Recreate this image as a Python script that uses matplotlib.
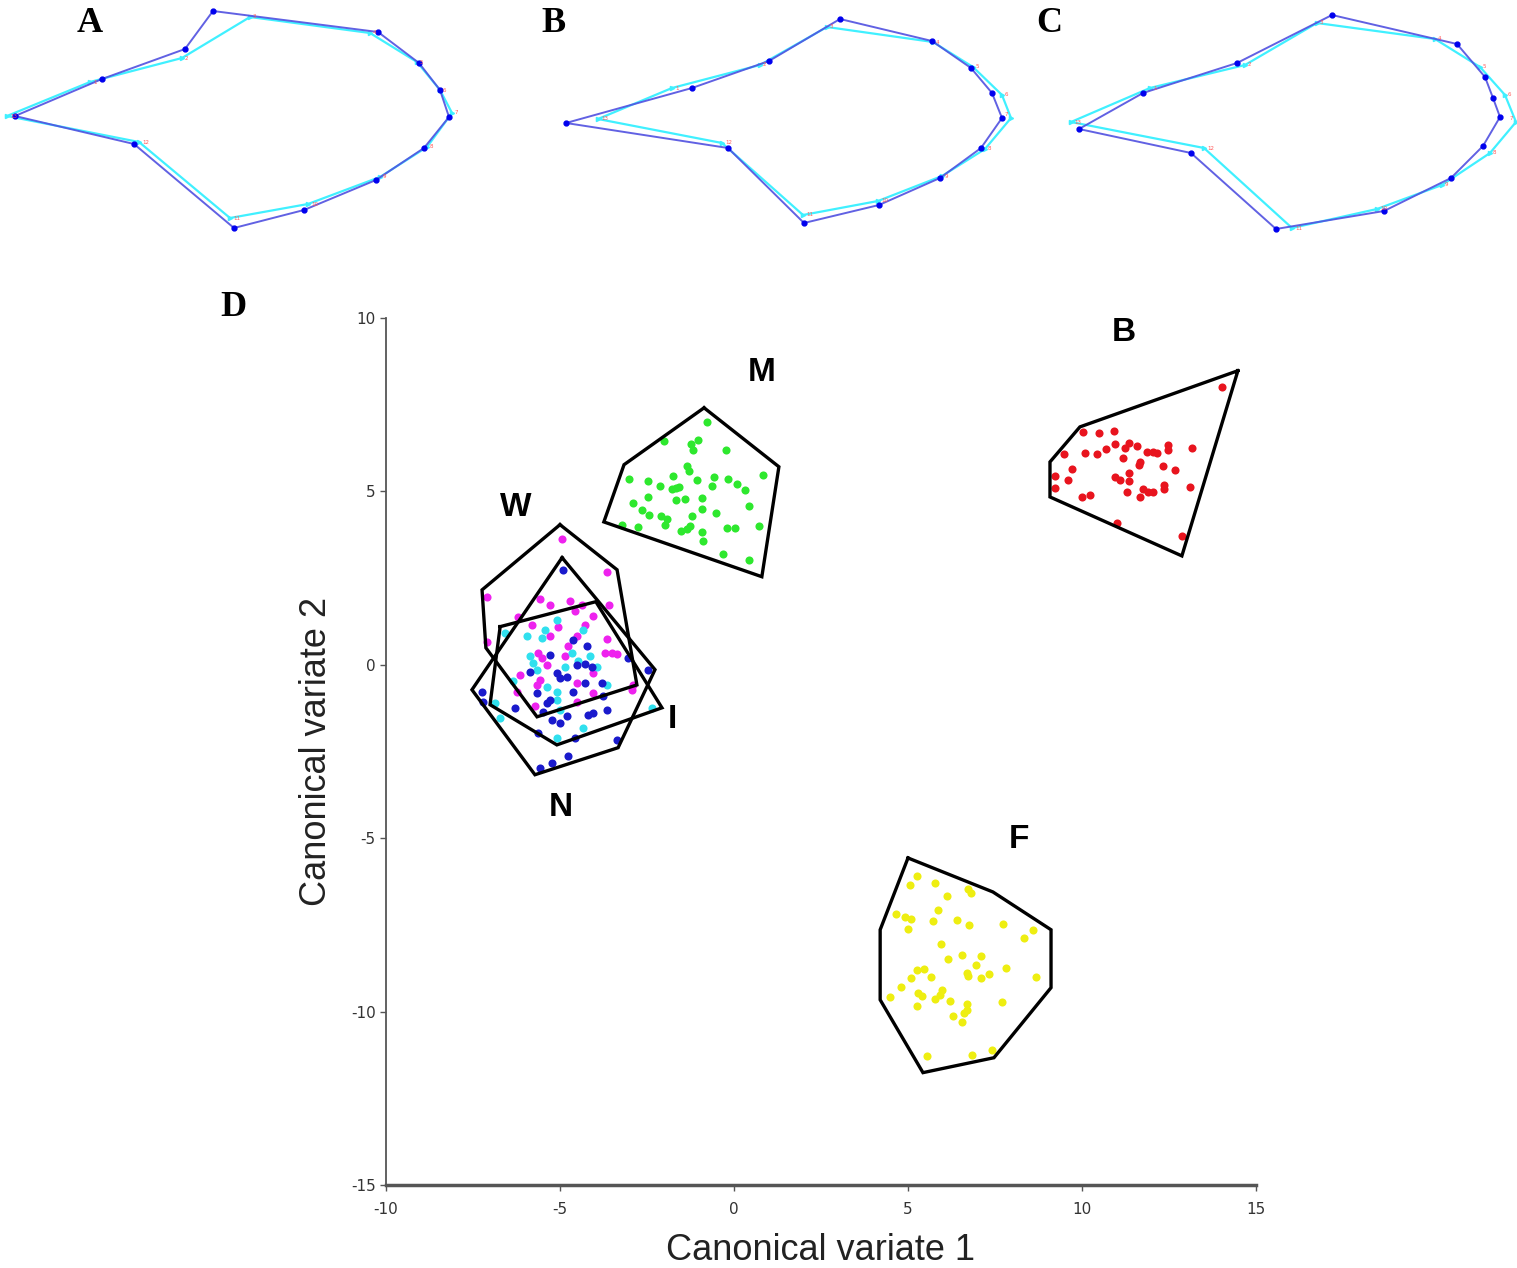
import matplotlib.pyplot as plt
import numpy as np

plt.rcParams['axes.unicode_minus'] = False

# Landmark outlines (panels A-C), local panel units (y down), 13 landmarks each
A_blue_x = [102, 185, 213, 378, 419, 440, 449, 424, 376, 304, 234, 134, 15]
A_blue_y = [79, 49, 11, 32, 63, 90, 117, 148, 180, 210, 228, 144, 116]
A_cyan_x = [90, 182, 250, 370, 417, 440, 452, 427, 380, 308, 230, 139, 7]
A_cyan_y = [82, 58, 17, 33, 62, 90, 113, 147, 177, 204, 218, 142, 116]

B_blue_x = [152, 229, 300, 392, 431, 452, 462, 441, 400, 339, 264, 188, 26]
B_blue_y = [88, 61, 19, 41, 68, 93, 118, 148, 178, 205, 223, 148, 123]
B_cyan_x = [132, 220, 287, 393, 433, 462, 471, 445, 402, 338, 263, 182, 58]
B_cyan_y = [88, 65, 27, 42, 67, 95, 118, 149, 176, 201, 215, 143, 119]

C_blue_x = [103, 197, 292, 417, 445, 453, 460, 443, 411, 344, 236, 151, 39]
C_blue_y = [93, 63, 15, 44, 77, 98, 117, 146, 178, 211, 229, 153, 129]
C_cyan_x = [110, 205, 277, 395, 440, 465, 476, 450, 402, 337, 252, 164, 31]
C_cyan_y = [88, 65, 23, 39, 67, 95, 122, 153, 185, 209, 228, 148, 122]

# Canonical variate scores per group
M_x = [-0.78, -2.01, -1.24, -1.03, -1.17, -0.23, -1.36, -1.28, 0.84, -3.01, -2.46, -1.76,
       -2.13, -1.67, -1.79, -1.57, -1.07, -0.57, -0.64, -0.18, 0.08, 0.32, -2.46, -1.67,
       -1.41, -0.93, -2.91, -2.65, -2.43, -0.93, -0.52, 0.44, -2.11, -1.92, -1.22, -3.23,
       -2.75, -1.98, -1.53, -1.36, -1.26, -0.93, -0.21, 0.03, 0.73, -0.90, -0.32, 0.44]
M_y = [6.99, 6.44, 6.36, 6.47, 6.18, 6.20, 5.72, 5.59, 5.46, 5.35, 5.29, 5.43,
       5.16, 5.09, 5.07, 5.12, 5.33, 5.41, 5.16, 5.35, 5.22, 5.05, 4.85, 4.76,
       4.78, 4.81, 4.66, 4.47, 4.33, 4.49, 4.37, 4.58, 4.28, 4.21, 4.30, 4.04,
       3.97, 4.04, 3.86, 3.91, 4.01, 3.84, 3.94, 3.94, 4.01, 3.56, 3.20, 3.01]

B_x = [14.01, 10.04, 10.50, 10.92, 9.48, 10.09, 10.44, 10.69, 10.95, 11.24, 11.36, 11.57,
       11.19, 12.48, 12.48, 13.15, 11.86, 12.05, 12.15, 11.67, 11.65, 9.70, 9.22, 9.61,
       9.22, 10.95, 11.09, 11.36, 11.36, 12.34, 12.67, 11.29, 11.76, 11.67, 11.91, 12.05,
       12.36, 12.36, 13.10, 9.99, 10.23, 11.02, 12.86]
B_y = [8.01, 6.70, 6.68, 6.73, 6.08, 6.10, 6.08, 6.22, 6.36, 6.25, 6.41, 6.31,
       5.96, 6.34, 6.18, 6.25, 6.15, 6.15, 6.10, 5.86, 5.77, 5.64, 5.45, 5.33,
       5.11, 5.41, 5.33, 5.53, 5.29, 5.74, 5.62, 4.98, 5.07, 4.85, 4.97, 4.97,
       5.19, 5.07, 5.12, 4.85, 4.90, 4.09, 3.70]

F_x = [5.25, 5.06, 5.78, 6.13, 6.73, 6.80, 5.87, 4.66, 4.91, 5.08, 5.01, 5.71, 6.42,
       6.76, 7.72, 8.60, 8.33, 5.94, 6.54, 6.16, 7.09, 6.95, 7.82, 8.68, 5.25, 5.46,
       5.10, 5.65, 6.69, 6.73, 7.09, 7.34, 4.79, 4.48, 5.30, 5.39, 5.97, 5.78, 5.92,
       6.21, 5.25, 6.69, 6.69, 6.61, 6.28, 6.54, 7.69, 5.56, 6.83, 7.41]
F_y = [-6.10, -6.34, -6.29, -6.68, -6.47, -6.57, -7.08, -7.18, -7.26, -7.33, -7.62, -7.40, -7.37,
       -7.50, -7.47, -7.66, -7.88, -8.04, -8.36, -8.49, -8.39, -8.65, -8.75, -9.01, -8.79, -8.77,
       -9.03, -9.01, -8.89, -8.97, -9.03, -8.91, -9.29, -9.57, -9.47, -9.54, -9.37, -9.64, -9.52,
       -9.68, -9.83, -9.78, -9.95, -10.04, -10.12, -10.29, -9.71, -11.28, -11.25, -11.10]

W_x = [-4.95, -3.66, -7.11, -5.57, -5.29, -4.71, -4.38, -3.58, -6.20, -5.81, -4.57, -4.04,
       -5.05, -4.52, -5.29, -3.66, -5.62, -5.53, -4.76, -3.71, -3.51, -3.37, -5.38, -4.04,
       -6.15, -5.57, -4.52, -2.89, -2.94, -4.04, -6.24, -4.52, -5.72, -7.11, -4.86, -5.67, -4.28]
W_y = [3.62, 2.69, 1.95, 1.89, 1.73, 1.83, 1.73, 1.73, 1.39, 1.15, 1.54, 1.41,
       1.10, 0.84, 0.84, 0.74, 0.34, 0.19, 0.53, 0.34, 0.34, 0.32, 0.00, -0.24,
       -0.29, -0.43, -0.53, -0.58, -0.72, -0.80, -0.77, -1.06, -1.20, 0.67, 0.24, -0.58, 1.15]

I_x = [-6.58, -5.96, -5.43, -5.53, -5.09, -4.33, -5.86, -5.77, -4.66, -4.14, -3.95, -4.47,
       -6.34, -5.38, -5.09, -3.66, -6.87, -6.72, -5.09, -5.00, -4.33, -5.09, -2.37, -5.67, -4.86]
I_y = [0.91, 0.84, 1.01, 0.77, 1.30, 1.01, 0.24, 0.05, 0.34, 0.24, -0.05, 0.10,
       -0.48, -0.63, -0.77, -0.58, -1.10, -1.54, -1.01, -1.30, -1.83, -2.11, -1.25, -0.14, -0.05]

N_x = [-4.92, -4.23, -4.62, -5.29, -4.52, -4.28, -5.00, -4.81, -5.86, -5.67, -5.29, -4.62,
       -4.28, -3.80, -3.04, -2.46, -7.25, -7.20, -6.29, -5.48, -5.24, -5.00, -5.38, -4.04,
       -3.66, -4.19, -4.81, -5.62, -4.57, -3.37, -5.57, -5.24, -4.76, -3.76, -5.09, -4.09]
N_y = [2.74, 0.55, 0.72, 0.29, 0.00, 0.03, -0.38, -0.34, -0.22, -0.82, -1.01, -0.77,
       -0.53, -0.53, 0.19, -0.14, -0.77, -1.06, -1.25, -1.35, -1.59, -1.68, -1.10, -1.39,
       -1.30, -1.44, -1.49, -1.97, -2.11, -2.16, -2.98, -2.83, -2.64, -0.91, -0.24, -0.05]

# Convex hull vertices per group
M_hull = [(-0.86, 7.41), (1.29, 5.71), (0.80, 2.54), (-3.74, 4.12), (-3.16, 5.77)]
B_hull = [(14.48, 8.48), (12.87, 3.14), (9.08, 4.84), (9.08, 5.85), (9.94, 6.86)]
F_hull = [(5.00, -5.57), (7.44, -6.55), (9.11, -7.64), (9.11, -9.31), (7.47, -11.33),
          (5.43, -11.76), (4.20, -9.66), (4.20, -7.64)]
W_hull = [(-5.00, 4.04), (-3.36, 2.74), (-2.79, -0.58), (-5.66, -1.50), (-7.13, 0.49), (-7.24, 2.16)]
N_hull = [(-4.94, 3.09), (-2.27, -0.14), (-3.33, -2.39), (-5.72, -3.17), (-7.53, -0.72)]
I_hull = [(-6.72, 1.10), (-3.97, 1.82), (-2.07, -1.24), (-5.09, -2.31), (-7.01, -1.15)]

group_labels = ['M', 'B', 'W', 'I', 'N', 'F']
label_x = [0.80, 11.2, -6.26, -1.78, -4.97, 8.19]
label_y = [8.42, 9.57, 4.53, -1.59, -4.12, -5.05]

W_PX, H_PX = 1517, 1268
fig = plt.figure(figsize=(W_PX / 100, H_PX / 100), dpi=100)


def outline_panel(left_px, width_px, bx, by, cx, cy, letter, letter_x):
    ax = fig.add_axes([left_px / W_PX, 1 - 240 / H_PX, width_px / W_PX, 240 / H_PX])
    ax.set_xlim(0, width_px)
    ax.set_ylim(240, 0)
    ax.axis('off')
    ax.plot(cx + [cx[0]], cy + [cy[0]], color='#40f0ff', lw=1.6, zorder=2)
    ax.plot(cx, cy, linestyle='none', marker='>', ms=3, color='#40f0ff', zorder=2)
    ax.plot(bx + [bx[0]], by + [by[0]], color='#5050e0', lw=1.4, alpha=0.9, zorder=3)
    ax.plot(bx, by, linestyle='none', marker='o', ms=3.5, color='#0000ee', zorder=4)
    for i in range(len(cx)):
        # keep the tiny landmark numbers inside the panel
        if cx[i] + 10 > width_px:
            ax.text(cx[i] - 3, cy[i] - 4, str(i + 1), fontsize=4, color='#ff5a5a',
                    ha='right', va='center', zorder=5)
        else:
            ax.text(cx[i] + 3, cy[i], str(i + 1), fontsize=4, color='#ff5a5a',
                    va='center', zorder=5)
    ax.text(letter_x, 23, letter, fontsize=26, fontweight='bold', family='Liberation Serif',
            ha='center', va='center')


outline_panel(0, 470, A_blue_x, A_blue_y, A_cyan_x, A_cyan_y, 'A', 90)
outline_panel(540, 480, B_blue_x, B_blue_y, B_cyan_x, B_cyan_y, 'B', 14)
outline_panel(1040, 477, C_blue_x, C_blue_y, C_cyan_x, C_cyan_y, 'C', 9)

fig.text(233 / W_PX, 1 - 308 / H_PX, 'D', fontsize=26, fontweight='bold',
         family='Liberation Serif', ha='center', va='center')

ax = fig.add_axes([386 / W_PX, 1 - 1185 / H_PX, 870 / W_PX, 867 / H_PX])
ax.set_xlim(-10, 15)
ax.set_ylim(-15, 10)

ms = 34
ax.scatter(M_x, M_y, s=ms, color='#2ee82e', zorder=2, linewidths=0)
ax.scatter(B_x, B_y, s=ms, color='#e8141e', zorder=2, linewidths=0)
ax.scatter(F_x, F_y, s=ms, color='#eeee11', zorder=2, linewidths=0)
ax.scatter(W_x, W_y, s=ms, color='#ee22ee', zorder=2, linewidths=0)
ax.scatter(I_x, I_y, s=ms, color='#30e0ee', zorder=2, linewidths=0)
ax.scatter(N_x, N_y, s=ms, color='#1a1acc', zorder=2, linewidths=0)

for hull in [M_hull, B_hull, F_hull, W_hull, N_hull, I_hull]:
    hx = [p[0] for p in hull] + [hull[0][0]]
    hy = [p[1] for p in hull] + [hull[0][1]]
    ax.plot(hx, hy, color='black', lw=2.4, solid_joinstyle='miter', zorder=3)

for lab, lx, ly in zip(group_labels, label_x, label_y):
    ax.text(lx, ly, lab, fontsize=24, fontweight='bold', family='Liberation Sans',
            ha='center', va='center')

ax.set_xticks([-10, -5, 0, 5, 10, 15])
ax.set_yticks([-15, -10, -5, 0, 5, 10])
ax.tick_params(direction='out', length=4, width=1, colors='#555555', labelcolor='#333333',
               labelsize=11)
ax.tick_params(axis='x', pad=8)
for s in ['top', 'right']:
    ax.spines[s].set_visible(False)
ax.spines['left'].set_color('#555555')
ax.spines['bottom'].set_color('#555555')
ax.spines['left'].set_linewidth(1.3)
ax.spines['bottom'].set_linewidth(2.5)
ax.set_xlabel('Canonical variate 1', fontsize=26, family='Liberation Sans', color='#222222',
              labelpad=12)
ax.set_ylabel('Canonical variate 2', fontsize=26, family='Liberation Sans', color='#222222',
              labelpad=12)

fig.savefig('out.png', dpi=100)
